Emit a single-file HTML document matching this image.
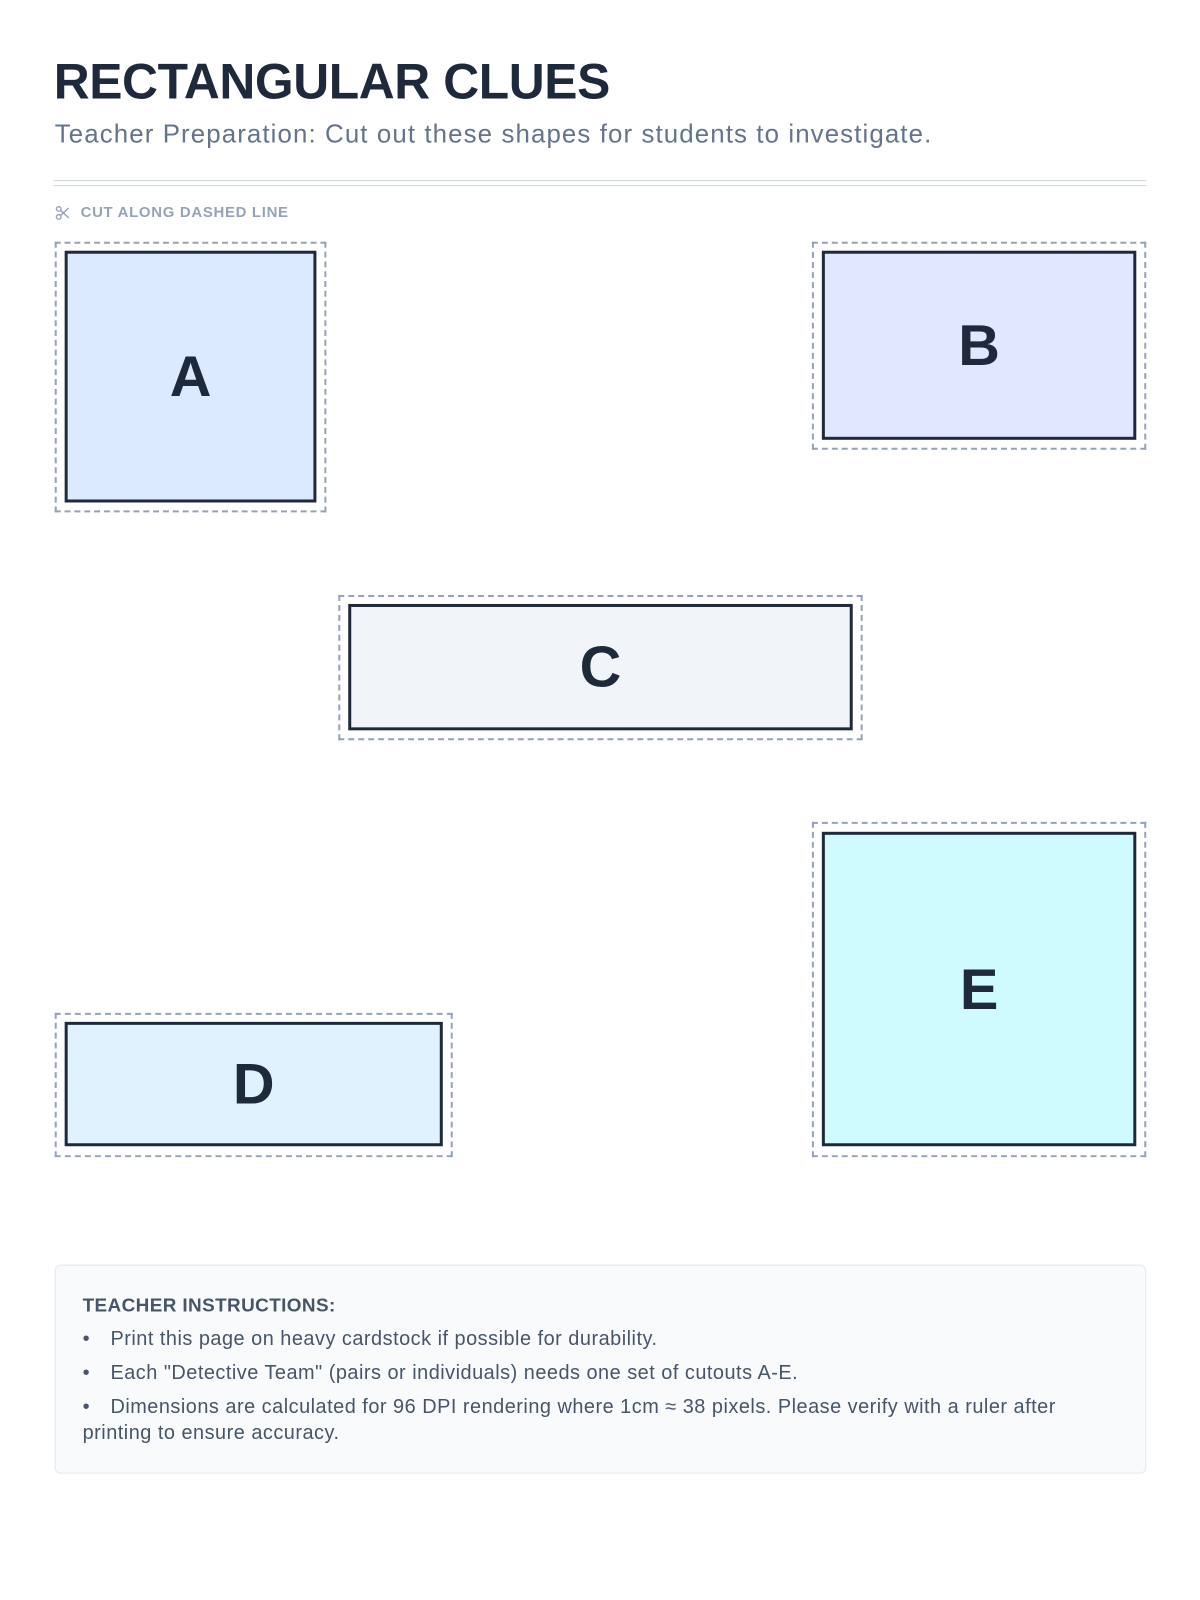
<!DOCTYPE html>
<html><head><meta charset="utf-8"><style>
*{margin:0;padding:0;box-sizing:border-box}
body{width:1200px;height:1600px;background:#fff;position:relative;font-family:"Liberation Sans",sans-serif;overflow:hidden}
#w{position:absolute;left:0;top:0;width:1200px;height:1600px;transform:scale(0.995);transform-origin:0 0}
.abs{position:absolute}
h1{position:absolute;left:54px;top:52px;font-size:50px;line-height:60px;font-weight:bold;color:#1e293b;letter-spacing:-0.4px;white-space:nowrap}
.sub{position:absolute;left:55px;top:119px;font-size:26px;line-height:30px;color:#64748b;white-space:nowrap;letter-spacing:1.1px}
.line{position:absolute;left:54px;width:1098px;height:1px;background:#cbd5e1}
.cut{position:absolute;left:81px;top:205px;font-size:15px;font-weight:bold;color:#94a3b8;white-space:nowrap;letter-spacing:0.7px}
.dash{position:absolute;border:2px dashed #94a3b8}
.card{position:absolute;border:3px solid #1e293b;display:flex;align-items:center;justify-content:center;font-size:58px;font-weight:bold;color:#1e293b}
.box{position:absolute;left:55px;top:1271px;width:1097px;height:210px;background:#f8fafc;border:1px solid #e2e8f0;border-radius:6px}
.ins{position:absolute;left:83px;color:#475569;font-size:20px;white-space:nowrap;letter-spacing:0.5px}
</style></head><body><div id="w">
<h1>RECTANGULAR CLUES</h1>
<div class="sub">Teacher Preparation: Cut out these shapes for students to investigate.</div>
<div class="line" style="top:181px"></div>
<div class="line" style="top:186px"></div>
<svg class="abs" style="left:55px;top:206px" width="16" height="16" viewBox="0 0 16 16" fill="none" stroke="#94a3b8" stroke-width="1.4"><circle cx="4" cy="4" r="2.3"/><circle cx="4" cy="12" r="2.3"/><line x1="6" y1="5.5" x2="14" y2="13"/><line x1="6" y1="10.5" x2="14" y2="3"/></svg>
<div class="cut">CUT ALONG DASHED LINE</div>

<div class="dash" style="left:55px;top:243px;width:273px;height:272px"></div>
<div class="card" style="left:65px;top:252px;width:253px;height:253px;background:#dbeafe">A</div>

<div class="dash" style="left:816px;top:243px;width:336px;height:209px"></div>
<div class="card" style="left:826px;top:252px;width:316px;height:190px;background:#e0e7ff">B</div>

<div class="dash" style="left:340px;top:598px;width:527px;height:146px"></div>
<div class="card" style="left:350px;top:607px;width:507px;height:127px;background:#f1f5f9">C</div>

<div class="dash" style="left:55px;top:1018px;width:400px;height:145px"></div>
<div class="card" style="left:65px;top:1027px;width:380px;height:125px;background:#e0f2fe">D</div>

<div class="dash" style="left:816px;top:826px;width:336px;height:337px"></div>
<div class="card" style="left:826px;top:836px;width:316px;height:316px;background:#cffafe">E</div>

<div class="box"></div>
<div class="ins" style="top:1302px;font-weight:bold;font-size:19px;letter-spacing:0.4px">TEACHER INSTRUCTIONS:</div>
<div class="ins" style="top:1335px"><span style="display:inline-block;width:28px">•</span>Print this page on heavy cardstock if possible for durability.</div>
<div class="ins" style="top:1369px"><span style="display:inline-block;width:28px">•</span>Each "Detective Team" (pairs or individuals) needs one set of cutouts A-E.</div>
<div class="ins" style="top:1403px"><span style="display:inline-block;width:28px">•</span>Dimensions are calculated for 96 DPI rendering where 1cm ≈ 38 pixels. Please verify with a ruler after</div>
<div class="ins" style="top:1429px">printing to ensure accuracy.</div>
</div></body></html>
